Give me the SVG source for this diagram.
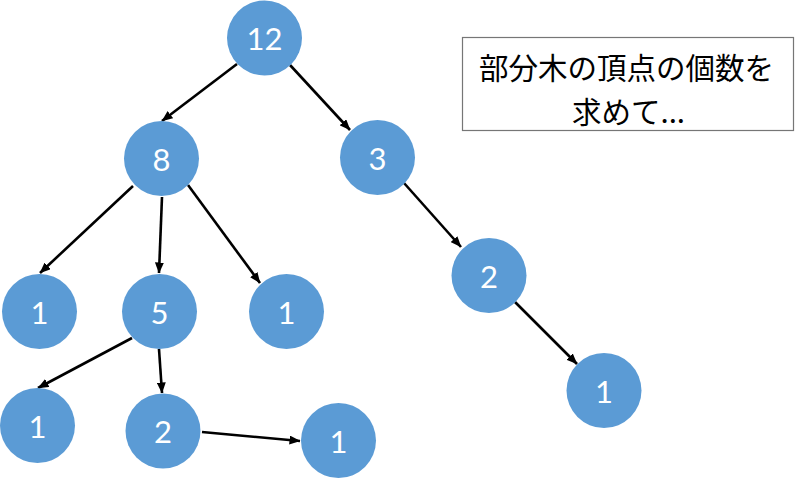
<svg xmlns="http://www.w3.org/2000/svg" width="800" height="483" viewBox="0 0 800 483">
  <style>
    .node circle { fill: #5B9BD5; }
    .node text { fill: #FFFFFF; font-family: Lato, "Open Sans", sans-serif; font-size: 31px; text-anchor: middle; dominant-baseline: central; }
    .edge { stroke: #000000; stroke-width: 2.6; fill: none; marker-end: url(#arrow); }
    .note rect { fill: #FFFFFF; stroke: #767676; stroke-width: 1.2; }
    .note text { fill: #000000; font-family: "Noto Sans CJK JP", "Noto Sans", sans-serif; font-size: 29.5px; text-anchor: middle; }
  </style>
  <defs>
    <marker id="arrow" markerUnits="userSpaceOnUse" markerWidth="11" markerHeight="9" viewBox="0 0 11 9" refX="10.5" refY="4.5" orient="auto">
      <path d="M0,0 L11,4.5 L0,9 z" fill="#000000"/>
    </marker>
  </defs>
  <rect width="800" height="483" fill="#FFFFFF"/>
  <g id="connectors">
    <line class="edge" x1="237" y1="64" x2="162" y2="121"/>
    <line class="edge" x1="290" y1="65" x2="350" y2="130"/>
    <line class="edge" x1="133" y1="186" x2="40" y2="273"/>
    <line class="edge" x1="162" y1="197" x2="159" y2="273"/>
    <line class="edge" x1="188" y1="185" x2="260" y2="283"/>
    <line class="edge" x1="404" y1="183" x2="461" y2="247"/>
    <line class="edge" x1="515" y1="302" x2="577" y2="364"/>
    <line class="edge" x1="132" y1="338" x2="38" y2="388"/>
    <line class="edge" x1="159" y1="349" x2="162" y2="393"/>
    <line class="edge" x1="202" y1="432" x2="300" y2="441"/>
  </g>
  <g id="n12" class="node"><circle cx="264.5" cy="38" r="37.5"/><text x="264.5" y="38">12</text></g>
  <g id="n8" class="node"><circle cx="161.5" cy="158.5" r="37.5"/><text x="161.5" y="158.5">8</text></g>
  <g id="n3" class="node"><circle cx="377.5" cy="157.5" r="37.5"/><text x="377.5" y="157.5">3</text></g>
  <g id="n1a" class="node"><circle cx="39.5" cy="311.5" r="37.5"/><text x="39.5" y="311.5">1</text></g>
  <g id="n5" class="node"><circle cx="159.5" cy="311.5" r="37.5"/><text x="159.5" y="311.5">5</text></g>
  <g id="n1b" class="node"><circle cx="286.5" cy="311.5" r="37.5"/><text x="286.5" y="311.5">1</text></g>
  <g id="n2a" class="node"><circle cx="489" cy="275.5" r="37.5"/><text x="489" y="275.5">2</text></g>
  <g id="n1c" class="node"><circle cx="37.5" cy="425.5" r="37.5"/><text x="37.5" y="425.5">1</text></g>
  <g id="n2b" class="node"><circle cx="163" cy="431" r="37.5"/><text x="163" y="431">2</text></g>
  <g id="n1d" class="node"><circle cx="338.5" cy="440.5" r="37.5"/><text x="338.5" y="440.5">1</text></g>
  <g id="n1e" class="node"><circle cx="604" cy="390.5" r="37.5"/><text x="604" y="390.5">1</text></g>
  <g id="note" class="note">
    <rect x="462.5" y="37.5" width="331" height="93"/>
    <text x="626.5" y="79">部分木の頂点の個数を</text>
    <text x="628.5" y="123">求めて...</text>
  </g>
</svg>
